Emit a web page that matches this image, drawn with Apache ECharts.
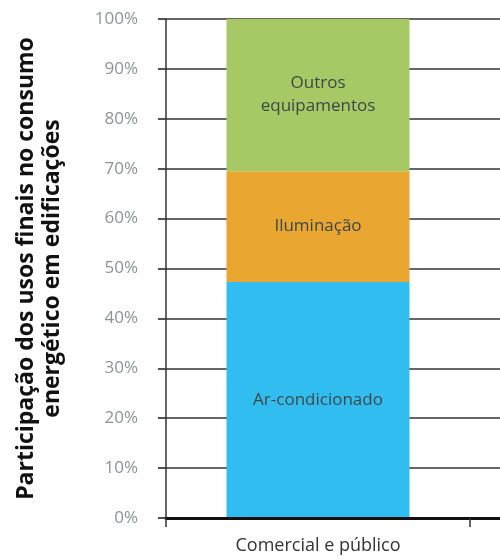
<!DOCTYPE html>
<html>
<head>
<meta charset="utf-8">
<script src="https://cdn.jsdelivr.net/npm/echarts@6/dist/echarts.min.js"></script>
<style>
  html, body { margin: 0; padding: 0; background: #fff; }
  #chart { width: 500px; height: 559px; }
</style>
</head>
<body>
<div id="chart"></div>
<script>
// dados
var categorias = ['Comercial e público', ''];
var arCondicionado = [47.3, null];
var iluminacao = [22.2, null];
var outros = [30.5, null];
var nomesSeries = ['Ar-condicionado', 'Iluminação', 'Outros\nequipamentos'];

var chartDom = document.getElementById('chart');
var chart = echarts.init(chartDom);

var rotulo = {
    show: true,
    position: 'inside',
    color: '#3c4848',
    fontSize: 17,
    lineHeight: 23,
    fontFamily: 'Open Sans',
    formatter: '{a}'
};

var option = {
    backgroundColor: '#fff',
    animation: false,
    grid: {
        left: 166,
        width: 608,   // a segunda categoria fica fora do quadro
        top: 19,
        bottom: 41,
        outerBoundsMode: 'none'
    },
    xAxis: {
        type: 'category',
        data: categorias,
        z: 5,
        axisLine: { lineStyle: { color: '#111', width: 3 } },
        axisTick: { show: true, length: 9, lineStyle: { color: '#333', width: 1.5 } },
        axisLabel: { color: '#333', fontSize: 18, margin: 19, fontFamily: 'Open Sans' }
    },
    yAxis: {
        type: 'value',
        min: 0,
        max: 100,
        interval: 10,
        name: 'Participação dos usos finais no consumo\nenergético em edificações',
        nameLocation: 'middle',
        nameGap: 101,
        nameTextStyle: {
            color: '#111',
            fontSize: 23,
            fontWeight: 'bold',
            lineHeight: 26,
            fontFamily: 'Open Sans'
        },
        axisLine: { show: true, lineStyle: { color: '#333', width: 1.5 } },
        axisTick: { show: true, length: 8, lineStyle: { color: '#333', width: 1.7 } },
        axisLabel: {
            formatter: '{value}%',
            color: '#8b9594',
            fontSize: 17,
            margin: 28,
            fontFamily: 'Open Sans'
        },
        splitLine: { show: true, lineStyle: { color: '#333', width: 1.7 } }
    },
    series: [{
        name: nomesSeries[0],
        type: 'bar',
        stack: 'total',
        barWidth: 183,
        data: arCondicionado,
        itemStyle: { color: '#31bdf0' },
        label: rotulo
    }, {
        name: nomesSeries[1],
        type: 'bar',
        stack: 'total',
        barWidth: 183,
        data: iluminacao,
        itemStyle: { color: '#e9a631' },
        label: rotulo
    }, {
        name: nomesSeries[2],
        type: 'bar',
        stack: 'total',
        barWidth: 183,
        data: outros,
        itemStyle: { color: '#a7c965' },
        label: rotulo
    }]
};

chart.setOption(option);
</script>
</body>
</html>
